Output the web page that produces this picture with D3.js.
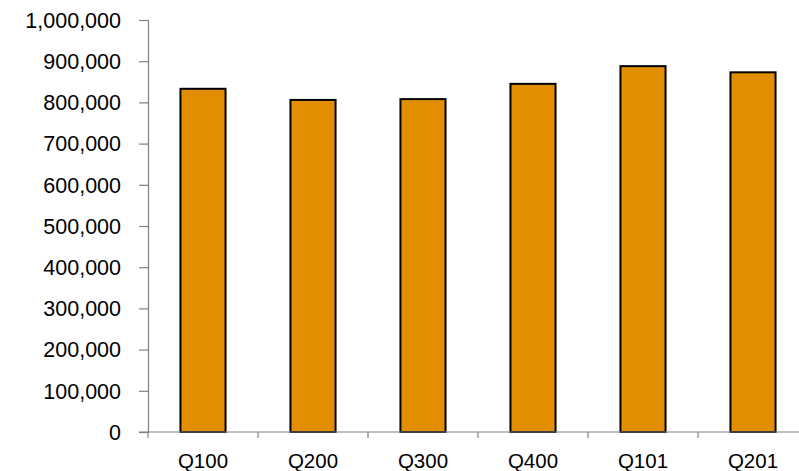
<!DOCTYPE html>
<html><head><meta charset="utf-8">
<script src="https://cdn.jsdelivr.net/npm/d3@7"></script>
<style>body{margin:0;background:#fff}svg{display:block}</style>
</head><body>
<svg id="c" width="799" height="471"></svg>
<script>
const categories = ["Q100","Q200","Q300","Q400","Q101","Q201"];
const values = [833000, 806000, 808000, 845000, 888000, 873000];
const yTicks = [0,100000,200000,300000,400000,500000,600000,700000,800000,900000,1000000];

(function(){
const svg = d3.select("#c");
const mL = 148, mR = 808, mT = 20, mB = 432;
const x = d3.scaleBand().domain(categories).range([mL, mR]).paddingInner(0.59).paddingOuter(0.295);
const xb = d3.scaleBand().domain(categories).range([mL, mR]);
const y = d3.scaleLinear().domain([0, 1000000]).range([mB, mT]);
const fmt = d3.format(",");

// bars
svg.append("g").selectAll("rect").data(values).join("rect")
  .attr("x", (d,i) => x(categories[i]))
  .attr("y", d => y(d))
  .attr("width", x.bandwidth())
  .attr("height", d => y(0) - y(d))
  .attr("fill", "#E38E00")
  .attr("stroke", "#000")
  .attr("stroke-width", 2);

// y axis
const ya = svg.append("g").attr("transform", `translate(${mL},0)`)
  .call(d3.axisLeft(y).tickValues(yTicks).tickFormat(fmt).tickSize(9).tickPadding(18));
ya.select(".domain").attr("stroke", "#808080").attr("stroke-width", 1.2);
ya.selectAll(".tick line").attr("stroke", "#808080").attr("stroke-width", 1.2);
ya.selectAll("text").attr("font-family", "Liberation Sans, Arial, sans-serif")
  .attr("font-size", 21.5).attr("fill", "#000").attr("dy", "0.34em");

// x axis
const xa = svg.append("g").attr("transform", `translate(0,${mB})`);
xa.append("line").attr("x1", mL - 9).attr("x2", mR).attr("stroke", "#808080").attr("stroke-width", 1.2);
xa.selectAll("line.t").data(categories).join("line").attr("class","t")
  .attr("x1", d => xb(d)).attr("x2", d => xb(d)).attr("y1", 0).attr("y2", 6)
  .attr("stroke", "#808080").attr("stroke-width", 1.2);
xa.selectAll("text").data(categories).join("text")
  .attr("x", d => xb(d) + xb.bandwidth()/2).attr("y", 36)
  .attr("text-anchor", "middle")
  .attr("font-family", "Liberation Sans, Arial, sans-serif")
  .attr("font-size", 20.5).attr("fill", "#000")
  .text(d => d);
})();
</script>
</body></html>
